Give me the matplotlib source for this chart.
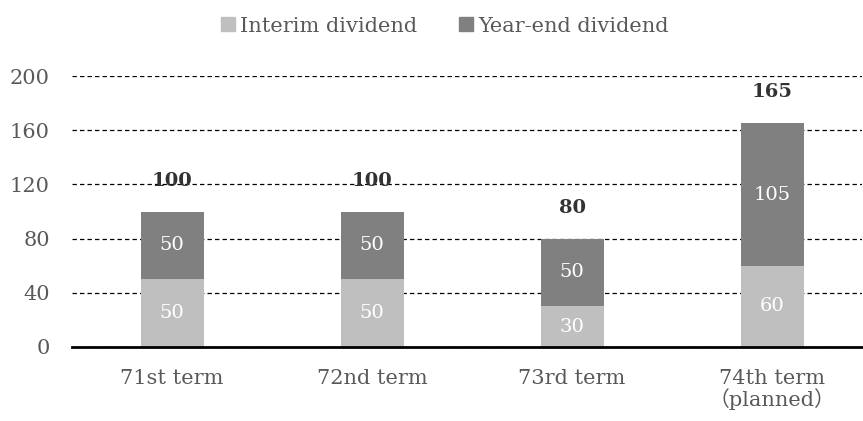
import matplotlib.pyplot as plt
from matplotlib.patches import Patch

# --- Data ---
terms = ['71st term', '72nd term', '73rd term', '74th term\n（planned）']
interim = [50, 50, 30, 60]
year_end = [50, 50, 50, 105]
yticks = [0, 40, 80, 120, 160, 200]

c_interim = '#BFBFBF'
c_yearend = '#808080'
txt_gray = '#595959'

plt.rcParams['font.family'] = ['DejaVu Serif', 'Noto Sans CJK JP']

fig = plt.figure(figsize=(8.63, 4.21), dpi=100)
ax = fig.add_axes([72 / 863, 74 / 421, 790 / 863, 271 / 421])

x = range(len(terms))
totals = [a + b for a, b in zip(interim, year_end)]

ax.bar(x, interim, width=0.315, color=c_interim, zorder=3)
ax.bar(x, year_end, width=0.315, bottom=interim, color=c_yearend, zorder=3)

for i in x:
    ax.text(i, interim[i] / 2, str(interim[i]), ha='center', va='center',
            color='white', fontsize=14, zorder=4)
    ax.text(i, interim[i] + year_end[i] / 2, str(year_end[i]), ha='center',
            va='center', color='white', fontsize=14, zorder=4)
    ax.annotate(str(totals[i]), (i, totals[i]), xytext=(0, 22),
                textcoords='offset pixels', ha='center', va='bottom',
                fontsize=14, fontweight='bold', color='#333333', zorder=5)

ax.set_xlim(-0.5, 3.45)
ax.set_ylim(0, 200)
ax.set_yticks(yticks)
ax.set_xticks(list(x))
ax.set_xticklabels(terms)
ax.tick_params(axis='both', length=0, labelsize=15, labelcolor=txt_gray)
ax.tick_params(axis='y', pad=16)
ax.tick_params(axis='x', pad=16)
for lbl in ax.get_xticklabels():
    lbl.set_linespacing(1.0)

ax.yaxis.grid(True, linestyle=(0, (3.5, 2.5)), color='black', linewidth=0.9)
ax.set_axisbelow(True)
for s in ['top', 'right', 'left']:
    ax.spines[s].set_visible(False)
ax.spines['bottom'].set_linewidth(2)
ax.spines['bottom'].set_zorder(6)

handles = [Patch(color=c_interim, label='Interim dividend'),
           Patch(color=c_yearend, label='Year-end dividend')]
leg = fig.legend(handles=handles, loc='center', bbox_to_anchor=(445 / 863, 1 - 26 / 421),
                 ncol=2, frameon=False, fontsize=15, handlelength=0.67,
                 handleheight=0.67, handletextpad=0.25, columnspacing=2.0,
                 borderpad=0, borderaxespad=0)
for t in leg.get_texts():
    t.set_color(txt_gray)

plt.savefig('out.png', dpi=100)
